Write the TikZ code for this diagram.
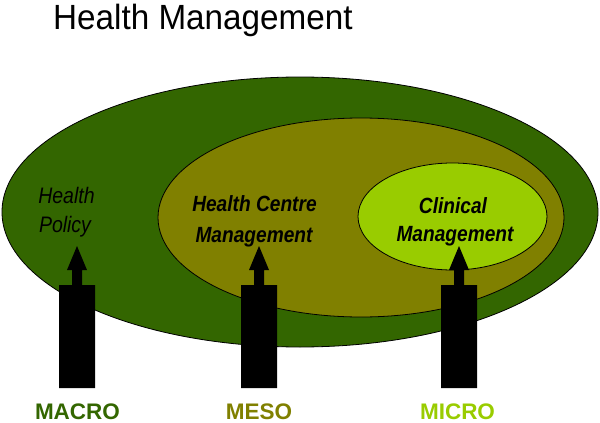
\documentclass[tikz,border=0pt]{standalone}
\usepackage{fontspec}
\setmainfont{Liberation Sans}
\newfontfamily\narrowfont{Liberation Sans}[FakeStretch=0.87]
\newfontfamily\titlefont{Liberation Sans}[FakeStretch=0.95]
\definecolor{macrogreen}{HTML}{336600}
\definecolor{mesoolive}{HTML}{808000}
\definecolor{microlime}{HTML}{99CC00}
\begin{document}
\begin{tikzpicture}[x=1pt,y=-1pt,
  ring/.style={draw=black,line width=0.8pt},
  inner/.style={font=\narrowfont\fontsize{22.4}{29}\selectfont\itshape,anchor=base,text=black,inner sep=0pt},
  innerbold/.style={inner,font=\narrowfont\fontsize{22}{29}\selectfont\bfseries\itshape},
  level/.style={font=\fontsize{22.5}{22.5}\selectfont\bfseries,anchor=base,inner sep=0pt,text depth=0pt},
  bigarrow/.style={fill=black,draw=none}]
\useasboundingbox (0,0) rectangle (600,423);
% ellipses
\fill[macrogreen,ring] (300,212) ellipse [x radius=298,y radius=135];
\fill[mesoolive,ring] (361,217.5) ellipse [x radius=203,y radius=99.5];
\fill[microlime,ring] (452.5,216.5) ellipse [x radius=94.5,y radius=53.5];
% title
\node[anchor=base west,inner sep=0pt,font=\titlefont\fontsize{35}{35}\selectfont] (title) at (53,29) {Health Management};
% inner texts
\node[inner] (policyA) at (66.5,203) {Health};
\node[inner] (policyB) at (65,232) {Policy};
\node[innerbold] (hcmA) at (254.5,211) {Health Centre};
\node[innerbold] (hcmB) at (254,242) {Management};
\node[innerbold] (clinA) at (453,213) {Clinical};
\node[innerbold] (clinB) at (455,241) {Management};
% arrows
\foreach \c/\n in {77/macroarrow,259/mesoarrow,459/microarrow}{
  \fill[bigarrow] (\c-18,388) -- (\c-18,285) -- (\c-5,285) -- (\c-5,270) -- (\c-10,270)
    -- (\c,246) -- (\c+10,270) -- (\c+5,270) -- (\c+5,285) -- (\c+18,285) -- (\c+18,388) -- cycle;
}
% level labels
\node[level,text=macrogreen] (macro) at (77.5,419.5) {MACRO};
\node[level,text=mesoolive] (meso) at (259,419.5) {MESO};
\node[level,text=microlime] (micro) at (457.5,419.5) {MICRO};
\end{tikzpicture}
\end{document}
